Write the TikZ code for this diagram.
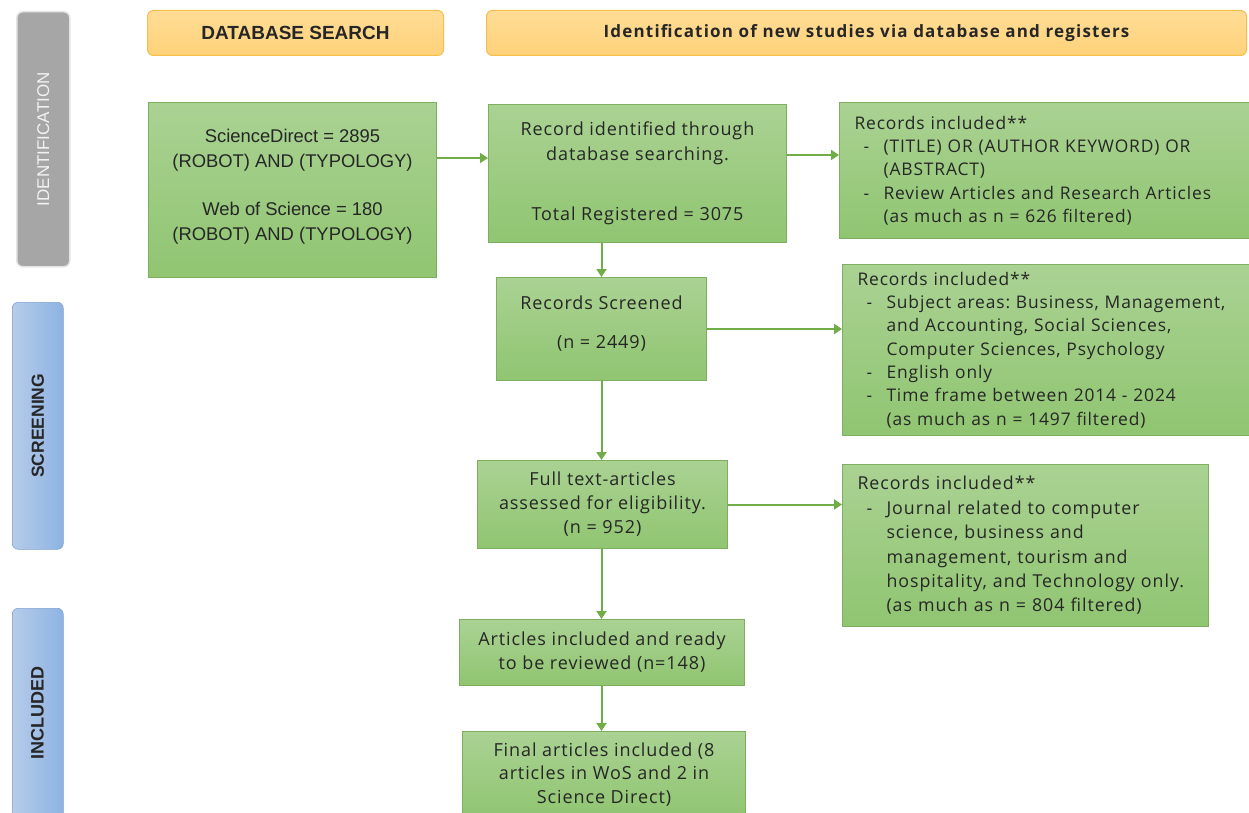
\documentclass[tikz,border=0pt]{standalone}
\usepackage{fontspec}
\setmainfont{Open Sans}
\newfontfamily\arialf{Liberation Sans}
\newfontfamily\midf[LetterSpace=5]{Open Sans}
\newfontfamily\rightf[LetterSpace=5]{Open Sans}
\newfontfamily\rightg[LetterSpace=5.5]{Open Sans}
\newfontfamily\hdrf[LetterSpace=7]{Open Sans}
\usetikzlibrary{arrows.meta}
\definecolor{gtop}{HTML}{AAD293}
\definecolor{gbot}{HTML}{90C571}
\definecolor{gborder}{HTML}{7EAF5E}
\definecolor{arrcol}{HTML}{70AD47}
\definecolor{ytop}{HTML}{FFDC96}
\definecolor{ybot}{HTML}{FFD27A}
\definecolor{yborder}{HTML}{F4C04A}
\definecolor{bleft}{HTML}{B6CCEA}
\definecolor{bright}{HTML}{8DB3E2}
\definecolor{bborder}{HTML}{7FA2D0}
\definecolor{txt}{HTML}{262626}
\newcommand{\itm}{\makebox[29pt][l]{\hspace*{9pt}-}}
\newcommand{\cnt}{\hspace*{29pt}}
\frenchspacing
\begin{document}
\begin{tikzpicture}[x=1pt,y=-1pt,
  gbox/.style={draw=gborder, line width=1pt, top color=gtop, bottom color=gbot,
    inner sep=0pt, text=txt, anchor=north west},
  hdr/.style={draw=yborder, line width=1pt, top color=ytop, bottom color=ybot,
    rounded corners=6pt, inner sep=0pt, anchor=north west, text=txt},
  btab/.style={draw=bborder, line width=0.6pt, left color=bleft, right color=bright,
    rounded corners=6pt, inner sep=0pt, anchor=north west},
  arr/.style={draw=arrcol, line width=2pt, -{Triangle[length=8pt,width=10pt]}},
  mid/.style={align=center, font=\midf\fontsize{18}{24}\selectfont},
  rgt/.style={align=left, font=\rightf\fontsize{17.4}{23.3}\selectfont},
]
\useasboundingbox (0,0) rectangle (1249,813);
\clip (0,0) rectangle (1249,813);

% side tabs
\node[draw=white!90!black, line width=1.5pt, fill=black!35, rounded corners=6pt,
  minimum width=53pt, minimum height=255pt, inner sep=0pt, anchor=north west] (tid) at (16,11) {};
\node[rotate=90, text=white!95!black, font=\arialf\fontsize{17}{18}\selectfont] (tidl) at (tid.center) {IDENTIFICATION};
\node[btab, minimum width=51pt, minimum height=247pt] (tsc) at (12,302) {};
\node[rotate=90, text=txt, font=\arialf\bfseries\fontsize{17.5}{18}\selectfont] (tscl) at (tsc.center) {SCREENING};
\node[btab, minimum width=51pt, minimum height=240pt] (tin) at (12,608) {};
\node[rotate=90, text=txt, font=\arialf\bfseries\fontsize{18}{18}\selectfont] (tinl) at (37.5,713) {INCLUDED};

% headers
\node[hdr, minimum width=296pt, minimum height=45pt, font=\arialf\bfseries\fontsize{19}{20}\selectfont] (h1) at (147,10) {DATABASE SEARCH};
\node[hdr, minimum width=760pt, minimum height=45pt, font=\hdrf\bfseries\fontsize{17}{20}\selectfont] (h2) at (486,10) {Identification of new studies via database and registers};

% boxes
\node[gbox, minimum width=288pt, minimum height=175pt, align=center,
  font=\arialf\fontsize{18.4}{25}\selectfont] (A) at (148,102)
  {ScienceDirect = 2895\\(ROBOT) AND (TYPOLOGY)\\[23pt]Web of Science = 180\\(ROBOT) AND (TYPOLOGY)\\[-15.5pt]};
\node[gbox, minimum width=298pt, minimum height=138pt, mid, font=\midf\fontsize{18}{25}\selectfont] (B) at (488,104)
  {Record identified through\\database searching.\\[35pt]Total Registered = 3075};
\node[gbox, minimum width=412pt, minimum height=136pt, rgt, text width=412pt] (C) at (839,102)
  {\hspace*{15pt}Records included**\\
   \hspace*{15pt}\itm(TITLE) OR (AUTHOR KEYWORD) OR\\
   \hspace*{15pt}\cnt(ABSTRACT)\\
   \hspace*{15pt}\itm Review Articles and Research Articles\\
   \hspace*{15pt}\cnt(as much as n = 626 filtered)};
\node[gbox, minimum width=210pt, minimum height=103pt, mid] (D) at (496,277)
  {Records Screened\\[15pt](n = 2449)\\[-10pt]};
\node[gbox, minimum width=409pt, minimum height=171pt, rgt, text width=409pt] (E) at (842,264)
  {\hspace*{15pt}Records included**\\
   \hspace*{15pt}\itm Subject areas: Business, Management,\\
   \hspace*{15pt}\cnt and Accounting, Social Sciences,\\
   \hspace*{15pt}\cnt Computer Sciences, Psychology\\
   \hspace*{15pt}\itm English only\\
   \hspace*{15pt}\itm Time frame between 2014 - 2024\\
   \hspace*{15pt}\cnt(as much as n = 1497 filtered)};
\node[gbox, minimum width=366pt, minimum height=162pt, rgt, text width=366pt,
  font=\rightg\fontsize{17.8}{24.4}\selectfont] (G) at (842,464)
  {\hspace*{15pt}Records included**\\
   \hspace*{15pt}\itm Journal related to computer\\
   \hspace*{15pt}\cnt science, business and\\
   \hspace*{15pt}\cnt management, tourism and\\
   \hspace*{15pt}\cnt hospitality, and Technology only.\\
   \hspace*{15pt}\cnt(as much as n = 804 filtered)};
\node[gbox, minimum width=250pt, minimum height=88pt, mid] (F) at (477,460)
  {Full text-articles\\assessed for eligibility.\\(n = 952)};
\node[gbox, minimum width=285pt, minimum height=66pt, mid] (H) at (459,619)
  {Articles included and ready\\to be reviewed (n=148)};
\node[gbox, minimum width=283pt, minimum height=86pt, mid, font=\midf\fontsize{18}{23.5}\selectfont] (I) at (462,731)
  {Final articles included (8\\articles in WoS and 2 in\\Science Direct)};

% connectors
\draw[arr] (A.east |- 0,158) -- (B.west |- 0,158);
\draw[arr] (B.east |- 0,155) -- (C.west |- 0,155);
\draw[arr] (B.south -| D.north) -- (D.north);
\draw[arr] (D.east) -- (E.west |- D.east);
\draw[arr] (D.south) -- (D.south |- F.north);
\draw[arr] (F.east) -- (G.west |- F.east);
\draw[arr] (F.south -| D.south) -- (D.south |- H.north);
\draw[arr] (H.south -| D.south) -- (D.south |- I.north);
\end{tikzpicture}
\end{document}
